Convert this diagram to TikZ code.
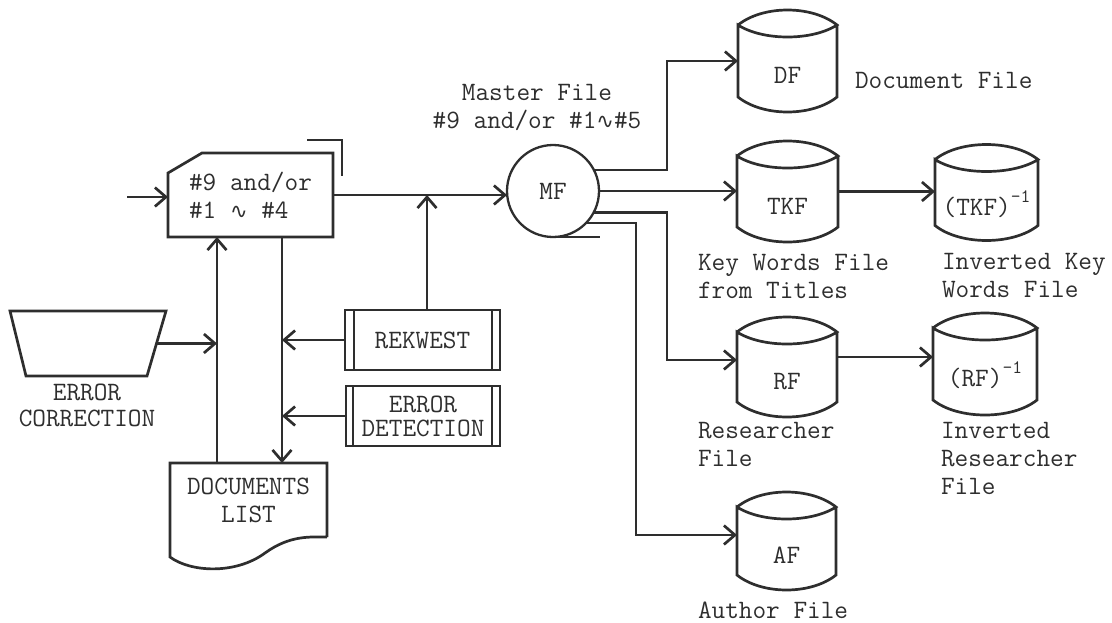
\documentclass[tikz,border=0pt]{standalone}
\usepackage{fontspec}
\newfontfamily\wavefont{DejaVu Sans}
\usetikzlibrary{arrows.meta,calc}
\definecolor{ink}{HTML}{2E2E2E}
\newcommand\wv{{\wavefont\fontsize{21}{21}\selectfont ∿}}
\newcommand\inv{\raisebox{13pt}{\fontsize{19}{19}\selectfont -1}}
\begin{document}
\begin{tikzpicture}[x=1pt,y=-1pt,
  every node/.style={font=\ttfamily\fontsize{26.5}{28}\selectfont,
    inner sep=0pt, outer sep=0pt, text=ink},
  line/.style={draw=ink, line width=2.7pt},
  thinbar/.style={draw=ink, line width=1.5pt},
  arr/.style={line, -{Straight Barb[length=11pt,width=19pt]}},
  blank/.style={rectangle, minimum width=#1},
  drum/.style={rectangle, text height=45pt, text depth=0pt}]
\useasboundingbox (0,0) rectangle (1112,622);

% ---- input card ----
\node[blank=165pt, minimum height=84pt, align=left] (inp) at (250.5,195)
  {\#9 and/or\\\#1 \wv{} \#4};
\draw[line] (inp.south west) -- ($(inp.south west)+(0,-64)$)
  -- ($(inp.north west)+(34,0)$) -- (inp.north east) -- (inp.south east) -- cycle;
\draw[line] ($(inp.north east)+(-26,-13)$) -- ($(inp.north east)+(9,-13)$)
  -- ($(inp.north east)+(9,23)$);
\coordinate (src) at (127,197);
\draw[arr] (src) -- (src -| inp.west);

% ---- master file (tape) ----
\node[circle, draw=ink, line width=2.3pt, minimum size=92pt] (MF) at (553,191) {MF};
\draw[line, line width=2.3pt] (MF.south) -- ++(47,0);
\node[align=center] (mfl) at (537,107.5) {Master File\\\#9 and/or \#1\wv\#5};
\draw[arr] (inp.east) -- (inp.east -| MF.west);

% ---- request / detection boxes ----
\node[blank=155pt, minimum height=60pt] (REK) at (422.5,340) {REKWEST};
\draw[line] (REK.north west) rectangle (REK.south east);
\draw[thinbar] ($(REK.north west)+(9,0)$) -- ($(REK.south west)+(9,0)$);
\draw[thinbar] ($(REK.north east)+(-8,0)$) -- ($(REK.south east)+(-8,0)$);
\coordinate (rk) at ($(REK.north)+(4.5,0)$);
\draw[arr] (rk) -- (rk |- inp.east);

\node[blank=154pt, minimum height=60pt, align=center,
  font=\ttfamily\fontsize{26.5}{24}\selectfont] (ED) at (423,416) {ERROR\\DETECTION};
\draw[line] (ED.north west) rectangle (ED.south east);
\draw[thinbar] ($(ED.north west)+(7,0)$) -- ($(ED.south west)+(7,0)$);
\draw[thinbar] ($(ED.north east)+(-8,0)$) -- ($(ED.south east)+(-8,0)$);

% ---- documents list ----
\node[blank=157pt, minimum height=74pt, align=center] (docs) at (248.5,500)
  {DOCUMENTS\\LIST};
\draw[line] (docs.south east) -- (docs.north east) -- (docs.north west)
  -- ($(docs.south west)+(0,20)$)
  .. controls +(20,15) and +(-30,22) .. ($(docs.south)+(16.5,16)$)
  .. controls +(25,-18) and +(-17,0) .. (docs.south east);

\coordinate (vL) at (217,0);
\coordinate (vR) at (282,0);
\draw[arr] (vR |- inp.south) -- (vR |- docs.north);
\draw[arr] (vL |- docs.north) -- (vL |- inp.south);
\draw[arr] (REK.west) -- (REK.west -| vR);
\draw[arr] (ED.west) -- (ED.west -| vR);

% ---- manual error correction ----
\node[blank=156pt, minimum height=65pt] (EC) at (88,343.5) {};
\draw[line] (EC.north west) -- (EC.north east) -- ($(EC.south east)+(-19,0)$)
  -- ($(EC.south west)+(16,0)$) -- cycle;
\node[align=center, font=\ttfamily\fontsize{26.5}{26}\selectfont] (ECl) at (87,405)
  {ERROR\\CORRECTION};
\draw[arr] ($(EC.east)+(-9.5,0)$) -- (EC.east -| vL);

% ---- disk files ----
\node[drum, minimum width=99pt,  minimum height=72pt] (DF)   at (787.5,61)   {DF};
\node[drum, minimum width=101pt, minimum height=71pt] (TKF)  at (787.5,191.5) {TKF};
\node[drum, minimum width=103pt, minimum height=66pt] (TKFi) at (986.5,192.5) {(TKF)\inv};
\node[drum, minimum width=100pt, minimum height=70pt] (RF)   at (787,367)    {RF};
\node[drum, minimum width=104pt, minimum height=72pt] (RFi)  at (985,364)    {(RF)\inv};
\node[drum, minimum width=99pt,  minimum height=68pt] (AF)   at (786.5,541)  {AF};
\foreach \d in {DF,TKF,TKFi,RF,RFi,AF} {
  \draw[line] (\d.north west) .. controls +(25,-20) and +(-25,-20) .. (\d.north east)
    .. controls +(-25,16) and +(25,16) .. (\d.north west)
    -- (\d.south west) .. controls +(25,20) and +(-25,20) .. (\d.south east)
    -- (\d.north east);
}

\coordinate (j1) at (667,0);
\coordinate (j3) at (636,0);
\coordinate (rfin) at ($(RF.west)+(0,-7)$);
\coordinate (rfout) at ($(RF.east)+(0,-10)$);
\coordinate (afin) at ($(AF.west)+(0,-6)$);
\draw[arr] (MF.27) -- (MF.27 -| j1) |- (DF.west);
\draw[arr] (MF.east) -- (MF.east -| TKF.west);
\draw[arr] (TKF.east) -- (TKF.east -| TKFi.west);
\draw[arr] (MF.-28.6) -- (MF.-28.6 -| j1) |- (rfin);
\draw[arr] (rfout) -- (rfout -| RFi.west);
\draw[arr] (MF.-44) -- (MF.-44 -| j3) |- (afin);

% ---- file captions ----
\node[anchor=west] (dfl) at (855,80) {Document File};
\node[anchor=west, align=left] (tkfl) at (698,276) {Key Words File\\from Titles};
\node[anchor=west, align=left] (tkfil) at (942,276) {Inverted Key\\Words File};
\node[anchor=west, align=left] (rfl) at (698,444.5) {Researcher\\File};
\node[anchor=west, align=left] (rfil) at (941,458.5) {Inverted\\Researcher\\File};
\node[anchor=west] (afl) at (698,610) {Author File};
\end{tikzpicture}
\end{document}
